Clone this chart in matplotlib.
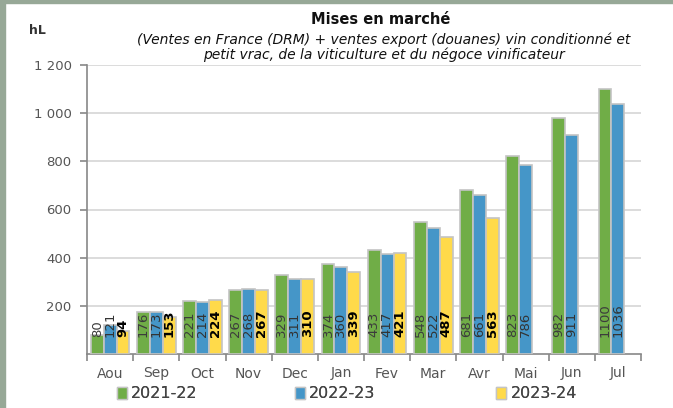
import matplotlib
matplotlib.use("Agg")
import matplotlib.pyplot as plt
from matplotlib.patches import Rectangle, Patch
from matplotlib.ticker import FuncFormatter, FixedLocator
import numpy as np

# Campaign months (August -> July)
months = ["Aou", "Sep", "Oct", "Nov", "Dec", "Jan", "Fev", "Mar", "Avr", "Mai", "Jun", "Jul"]
seasons = ["2021-22", "2022-23", "2023-24"]
v_2021_22 = [80, 176, 221, 267, 329, 374, 433, 548, 681, 823, 982, 1100]
v_2022_23 = [121, 173, 214, 268, 311, 360, 417, 522, 661, 786, 911, 1036]
v_2023_24 = [94, 153, 224, 267, 310, 339, 421, 487, 563, None, None, None]

colors = ["#70ad47", "#4596c8", "#ffda4a"]
label_colors = ["#3c3c3c", "#333333", "#000000"]
label_weights = ["normal", "normal", "bold"]

plt.rcParams["font.family"] = ["DejaVu Sans"]

fig = plt.figure(figsize=(6.73, 4.08), dpi=100)
W, H = 673, 408
ax = fig.add_axes([87 / W, 1 - 354 / H, (641 - 87) / W, (354 - 65) / H])

# Sage frame along the left and top edges
fig.patches.append(Rectangle((0, 0), 5 / W, 1, transform=fig.transFigure,
                             color="#97a897", zorder=0))
fig.patches.append(Rectangle((0, 1 - 3 / H), 1, 3 / H, transform=fig.transFigure,
                             color="#97a897", zorder=0))

x = np.arange(len(months))
bw = 0.28
series = [v_2021_22, v_2022_23, v_2023_24]
for i, vals in enumerate(series):
    xs = [xi + (i - 1) * bw for xi, v in zip(x, vals) if v is not None]
    hs = [v for v in vals if v is not None]
    ax.bar(xs, hs, width=bw, color=colors[i], edgecolor="#c4c4c4",
           linewidth=1.2, zorder=3)
    for xi, v in zip(xs, hs):
        ax.text(xi, 72, f"{v}", rotation=90, ha="center", va="bottom",
                fontsize=9.5, color=label_colors[i],
                fontweight=label_weights[i], zorder=4)

ax.set_xlim(-0.5, len(months) - 0.5)
ax.set_ylim(0, 1200)
ax.yaxis.set_major_locator(FixedLocator([200, 400, 600, 800, 1000, 1200]))
ax.yaxis.set_major_formatter(FuncFormatter(
    lambda v, p: f"{int(v):,}".replace(",", " ")))
ax.set_xticks(x)
ax.set_xticklabels(months)
ax.set_xticks(np.arange(-0.5, len(months)), minor=True)
ax.tick_params(axis="x", which="major", length=0, pad=9,
               labelsize=10, labelcolor="#555555")
ax.tick_params(axis="x", which="minor", length=5, width=1.2, color="#888888")
ax.tick_params(axis="y", length=5, width=1.2, color="#888888",
               labelsize=9.5, labelcolor="#555555", pad=6)

ax.grid(axis="y", color="#d9d9d9", linewidth=1.3, zorder=0)
ax.set_axisbelow(True)
for s in ["top", "right"]:
    ax.spines[s].set_visible(False)
for s in ["left", "bottom"]:
    ax.spines[s].set_color("#888888")
    ax.spines[s].set_linewidth(1.2)

fig.text(381 / W, 1 - 19 / H, "Mises en marché", ha="center", va="center",
         fontsize=10.5, fontweight="bold", color="#111111")
fig.text(384 / W, 1 - 47 / H,
         "(Ventes en France (DRM) + ventes export (douanes) vin conditionné et\n"
         "petit vrac, de la viticulture et du négoce vinificateur",
         ha="center", va="center", fontsize=10, style="italic",
         color="#111111", linespacing=1.05)
fig.text(37 / W, 1 - 31 / H, "hL", ha="center", va="center",
         fontsize=9, fontweight="bold", color="#333333")

# Legend entries spaced along the bottom
legend_x = [117, 295, 496]
for i, name in enumerate(seasons):
    leg = fig.legend(handles=[Patch(facecolor=colors[i], edgecolor="#c4c4c4")],
                     labels=[name], loc="center left",
                     bbox_to_anchor=(legend_x[i] / W, 1 - 394 / H),
                     frameon=False, fontsize=11.5, handlelength=0.65,
                     handleheight=0.7, handletextpad=0.25, borderaxespad=0,
                     borderpad=0, labelcolor="#444444")
    fig.add_artist(leg)

fig.savefig("out.png", dpi=100)
